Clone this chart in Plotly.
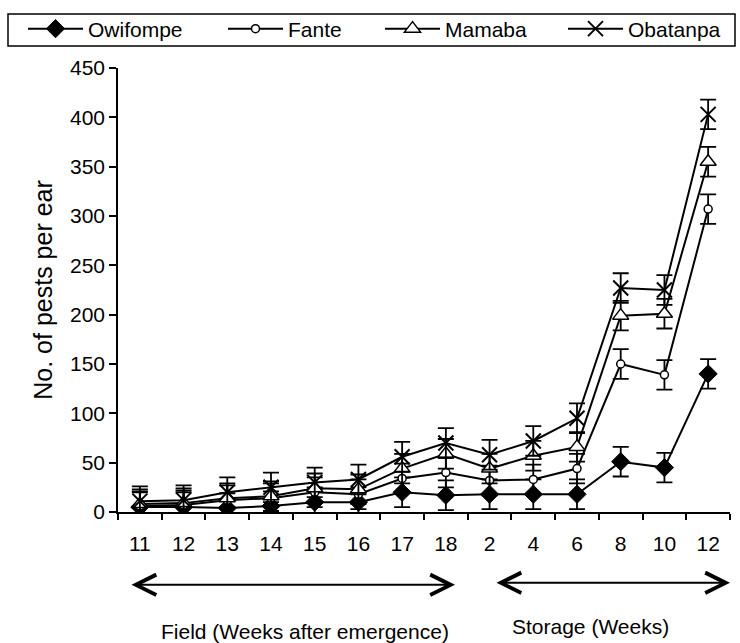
import plotly.graph_objects as go

weeks = ["11", "12", "13", "14", "15", "16", "17", "18", "2", "4", "6", "8", "10", "12"]
owifompe = [5, 5, 4, 6, 10, 10, 20, 17, 18, 18, 18, 51, 45, 140]
fante = [6, 7, 12, 14, 20, 18, 34, 40, 32, 33, 44, 150, 139, 307]
mamaba = [8, 9, 14, 16, 24, 23, 44, 59, 44, 57, 66, 199, 201, 355]
obatanpa = [11, 12, 20, 25, 30, 33, 56, 70, 58, 72, 95, 227, 225, 403]
err_owifompe = [15] * 14
err_fante = [15] * 14
err_mamaba = [15] * 14
err_obatanpa = [15] * 14

pos = list(range(len(weeks)))
FONT = "Arial, Liberation Sans, sans-serif"

W, H = 740, 643
L, R, T, B = 118, 10, 67, 131
pw, ph = W - L - R, H - T - B
def px(x):
    return (x - L) / pw
def py(y):
    return (H - B - y) / ph

fig = go.Figure()
series = [
    ("Owifompe", owifompe, err_owifompe, dict(symbol="diamond", size=14, color="black", line=dict(color="black", width=1)), "legend", 23),
    ("Fante", fante, err_fante, dict(symbol="circle", size=8, color="white", line=dict(color="black", width=1.5)), "legend2", 223),
    ("Mamaba", mamaba, err_mamaba, dict(symbol="triangle-up", size=14, color="white", line=dict(color="black", width=1.5)), "legend3", 380),
    ("Obatanpa", obatanpa, err_obatanpa, dict(symbol="x-thin", size=15, color="black", line=dict(color="black", width=2)), "legend4", 563),
]
legends = {}
for name, vals, err, mk, lg, lx in series:
    fig.add_trace(go.Scatter(
        x=pos, y=vals, name=name, mode="lines+markers",
        line=dict(color="black", width=2),
        marker=mk, legend=lg,
        error_y=dict(type="data", array=err, color="black", thickness=1.8, width=8),
    ))
    legends[lg] = dict(orientation="h", x=px(lx), y=py(29), xanchor="left", yanchor="middle",
                       font=dict(size=21), itemwidth=55, bgcolor="rgba(0,0,0,0)", borderwidth=0)

fig.update_layout(
    width=W, height=H,
    margin=dict(l=L, r=R, t=T, b=B),
    paper_bgcolor="white", plot_bgcolor="white",
    font=dict(family=FONT, size=21, color="black"),
    showlegend=True,
    **legends,
    xaxis=dict(range=[-0.5, len(weeks) - 0.5], tickmode="array", tickvals=pos, ticktext=weeks,
               ticks="", showline=True, linecolor="black", linewidth=1.5, showgrid=False,
               zeroline=False, tickfont=dict(size=21), ticklabelstandoff=12,
               minor=dict(tick0=-0.5, dtick=1, ticks="outside", ticklen=6, tickcolor="black",
                          tickwidth=1.5, showgrid=False)),
    yaxis=dict(range=[0, 450], dtick=50, ticks="outside", ticklen=7, tickwidth=1.5,
               tickcolor="black", showline=True, linecolor="black", linewidth=1.5,
               showgrid=False, zeroline=False, tickfont=dict(size=21),
               title=dict(text="No. of pests per ear", font=dict(size=25), standoff=10)),
    shapes=[dict(type="rect", xref="paper", yref="paper", x0=px(8), x1=px(735),
                 y0=py(45), y1=py(13), line=dict(color="black", width=1.5))],
    annotations=[
        dict(x=px(455), y=py(585), xref="paper", yref="paper", text="", showarrow=True,
             ax=-(455 - 130), ay=0, arrowside="end+start", arrowhead=5, startarrowhead=5,
             arrowsize=2, startarrowsize=2, arrowwidth=2, arrowcolor="black"),
        dict(x=px(730), y=py(583), xref="paper", yref="paper", text="", showarrow=True,
             ax=-(730 - 495), ay=0, arrowside="end+start", arrowhead=5, startarrowhead=5,
             arrowsize=2, startarrowsize=2, arrowwidth=2, arrowcolor="black"),
        dict(x=px(305), y=py(632), xref="paper", yref="paper", text="Field (Weeks after emergence)",
             showarrow=False, font=dict(size=21), xanchor="center", yanchor="middle"),
        dict(x=px(590), y=py(627), xref="paper", yref="paper", text="Storage (Weeks)",
             showarrow=False, font=dict(size=21), xanchor="center", yanchor="middle"),
    ],
)

fig.write_html("out.html")
